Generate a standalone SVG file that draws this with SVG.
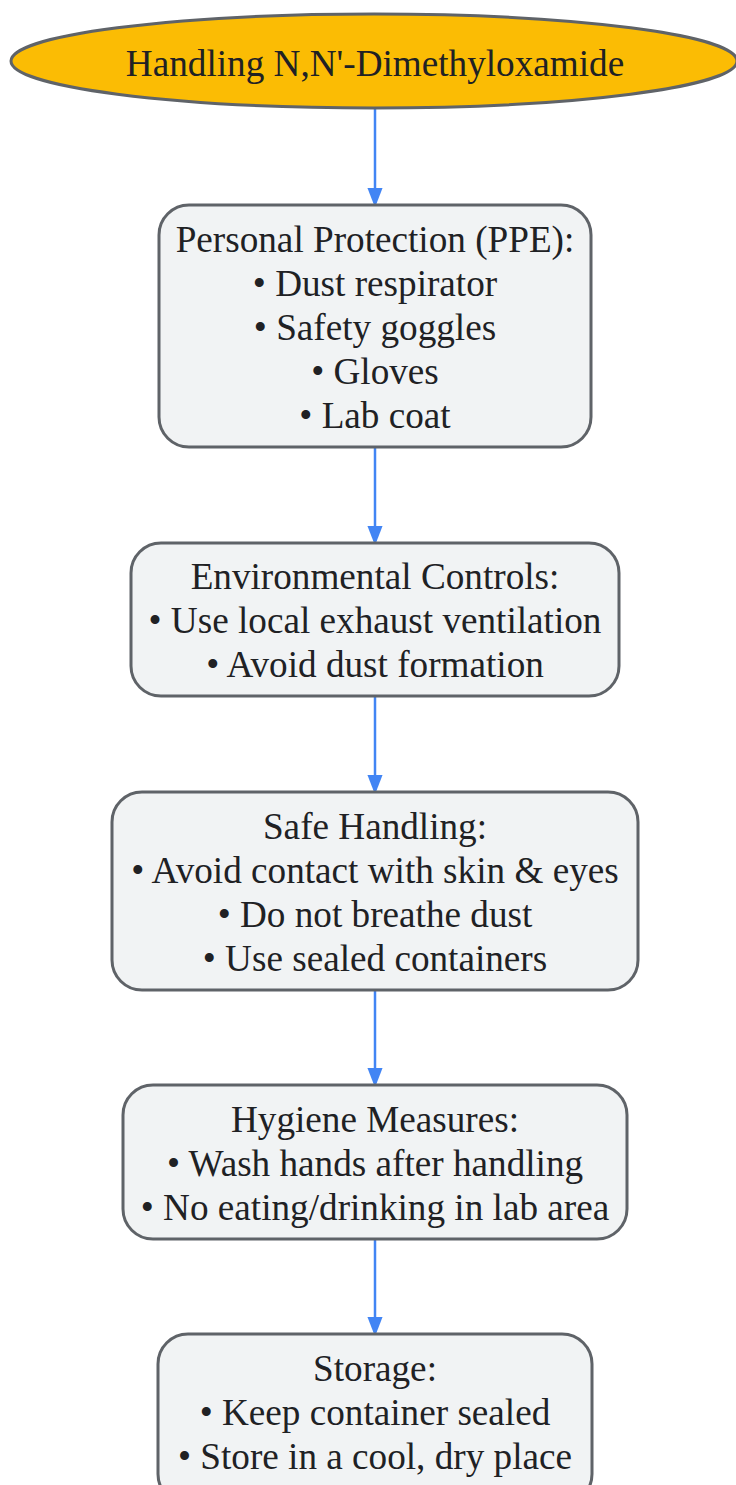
<svg xmlns="http://www.w3.org/2000/svg" width="736" height="1485" viewBox="0 0 736 1485">
<style>
.box{fill:#f1f3f4;stroke:#5f6368;stroke-width:3}
.start{fill:#fbbc04;stroke:#5f6368;stroke-width:3}
text{font-family:"Liberation Serif","Times New Roman",serif;font-size:37.2px;fill:#202124;text-anchor:middle}
.edge{stroke:#4285f4;stroke-width:2.5;fill:none;marker-end:url(#ah)}
</style>
<defs>
<marker id="ah" markerUnits="userSpaceOnUse" markerWidth="20" markerHeight="26" refX="20" refY="10" orient="auto" viewBox="0 0 26 20">
<path d="M0,0 L26,10 L0,20 z" fill="#4285f4"/>
</marker>
</defs>
<rect width="736" height="1485" fill="#ffffff"/>
<g id="edges">
<line class="edge" x1="375" y1="109" x2="375" y2="203"/>
<line class="edge" x1="375" y1="448" x2="375" y2="541"/>
<line class="edge" x1="375" y1="697" x2="375" y2="790"/>
<line class="edge" x1="375" y1="991" x2="375" y2="1083"/>
<line class="edge" x1="375" y1="1240" x2="375" y2="1332"/>
</g>
<g id="start">
<ellipse class="start" cx="374" cy="61" rx="363" ry="47"/>
<text x="375" y="76">Handling N,N'-Dimethyloxamide</text>
</g>
<g id="ppe">
<rect class="box" x="159" y="205" width="432" height="242" rx="30"/>
<text x="375" y="252">Personal Protection (PPE):</text>
<text x="375" y="296">• Dust respirator</text>
<text x="375" y="340">• Safety goggles</text>
<text x="375" y="384">• Gloves</text>
<text x="375" y="428">• Lab coat</text>
</g>
<g id="env">
<rect class="box" x="131" y="543" width="488" height="153" rx="30"/>
<text x="375" y="589">Environmental Controls:</text>
<text x="375" y="633">• Use local exhaust ventilation</text>
<text x="375" y="677">• Avoid dust formation</text>
</g>
<g id="safe">
<rect class="box" x="112" y="792" width="526" height="198" rx="30"/>
<text x="375" y="839">Safe Handling:</text>
<text x="375" y="883">• Avoid contact with skin &amp; eyes</text>
<text x="375" y="927">• Do not breathe dust</text>
<text x="375" y="971">• Use sealed containers</text>
</g>
<g id="hygiene">
<rect class="box" x="123" y="1085" width="504" height="154" rx="30"/>
<text x="375" y="1132">Hygiene Measures:</text>
<text x="375" y="1176">• Wash hands after handling</text>
<text x="375" y="1220">• No eating/drinking in lab area</text>
</g>
<g id="storage">
<rect class="box" x="158" y="1334" width="434" height="170" rx="30"/>
<text x="375" y="1381">Storage:</text>
<text x="375" y="1425">• Keep container sealed</text>
<text x="375" y="1469">• Store in a cool, dry place</text>
</g>
</svg>
